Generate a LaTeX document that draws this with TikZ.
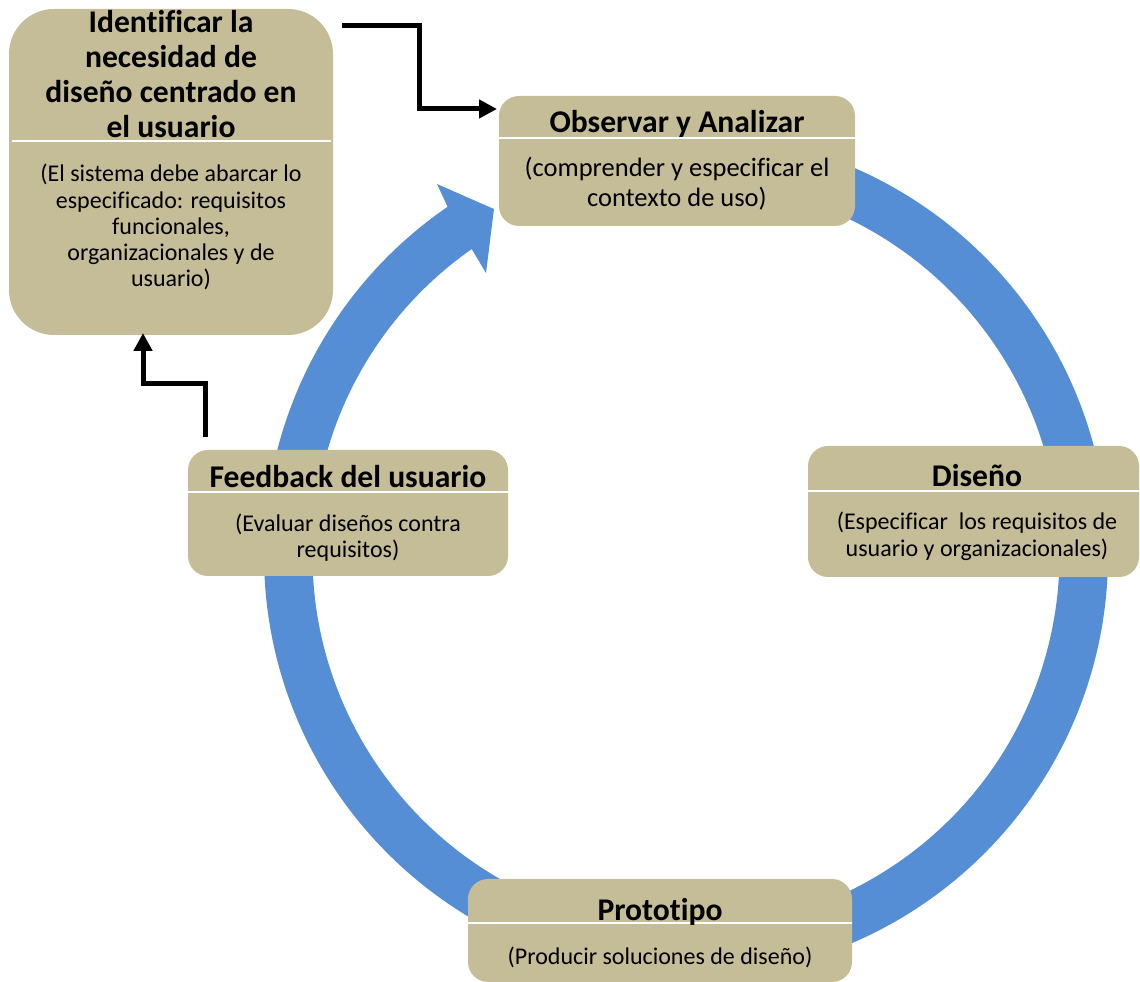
\documentclass[tikz,border=0pt]{standalone}
\usepackage{fontspec}
\setmainfont{Carlito}[Ligatures=CommonOff]
\usetikzlibrary{arrows.meta,calc}
\definecolor{ringblue}{HTML}{558ED5}
\definecolor{boxtan}{HTML}{C4BD97}
\begin{document}
\begin{tikzpicture}[x=1pt,y=1pt,
  box/.style={fill=boxtan, draw=none, rounded corners=20pt, inner sep=0pt, outer sep=0pt},
  ttl/.style={font=\fontsize{31.6}{35}\selectfont\bfseries, align=center, inner sep=0pt, anchor=base},
  txt/.style={font=\fontsize{24}{26.3}\selectfont, align=center, inner sep=0pt, anchor=base},
  sep/.style={draw=white, line width=1.5pt},
  conn/.style={draw=black, line width=5pt, line join=miter, -{Triangle[length=18pt,width=18pt]}}]
\useasboundingbox (0,0) rectangle (1140,982);

% circular process arrow
\begin{scope}[shift={(686,427)}]
  \fill[ringblue] (90:422) arc[start angle=90, end angle=-235.6, radius=422]
    -- (123.87:446.8) -- (119.03:395.7) -- (125.35:345.7) -- (-235:373.5)
    arc[start angle=-235, end angle=90, radius=373.5] -- cycle;
\end{scope}

% boxes
\node[box, rounded corners=45pt, minimum width=324pt, minimum height=326pt] (ident) at (171,810) {};
\node[box, minimum width=356pt, minimum height=130pt] (obs) at (677,821) {};
\node[box, minimum width=320pt, minimum height=126pt] (fb) at (348,469) {};
\node[box, minimum width=331pt, minimum height=131pt] (dis) at (973.5,470.5) {};
\node[box, minimum width=384pt, minimum height=103pt] (pro) at (660,51.5) {};

% separators
\draw[sep] ([yshift=31pt,xshift=3pt]ident.west) -- ([yshift=31pt,xshift=-2pt]ident.east);
\draw[sep] ([yshift=23pt]obs.west) -- ([yshift=23pt]obs.east);
\draw[sep] ([yshift=21pt]fb.west) -- ([yshift=21pt]fb.east);
\draw[sep] ([yshift=20.5pt]dis.west) -- ([yshift=20.5pt]dis.east);
\draw[sep] ([yshift=7.5pt]pro.west) -- ([yshift=7.5pt]pro.east);

% texts (base anchor = baseline of the last line)
\node[ttl] (identT) at (171,844) {Identificar la\\necesidad de\\diseño centrado en\\el usuario};
\node[txt] (identB) at (171,695) {(El sistema debe abarcar lo\\especificado: requisitos\\funcionales,\\organizacionales y de\\usuario)};
\node[ttl] (obsT) at (677,849) {Observar y Analizar};
\node[txt, font=\fontsize{26.5}{30}\selectfont] (obsB) at (677,775) {(comprender y especificar el\\contexto de uso)};
\node[ttl] (fbT) at (348,494) {Feedback del usuario};
\node[txt, font=\fontsize{24}{26}\selectfont] (fbB) at (348,424) {(Evaluar diseños contra\\requisitos)};
\node[ttl] (disT) at (977,495) {Diseño};
\node[txt, font=\fontsize{24}{27}\selectfont] (disB) at (977,425) {(Especificar\ \ los requisitos de\\usuario y organizacionales)};
\node[ttl] (proT) at (660,61) {Prototipo};
\node[txt] (proB) at (660,17) {(Producir soluciones de diseño)};

% connectors
\coordinate (a1s) at ($(ident.north east)+(9,-17)$);
\coordinate (a1e) at ($(obs.north west)+(-2,-13)$);
\draw[conn] (a1s) -- ++(77,0) |- (a1e);
\coordinate (a2s) at ($(fb.north west)+(17,13)$);
\coordinate (a2e) at ($(ident.south west)+(134,2)$);
\draw[conn] (a2s) -- ++(0,53) -| (a2e);
\end{tikzpicture}
\end{document}
